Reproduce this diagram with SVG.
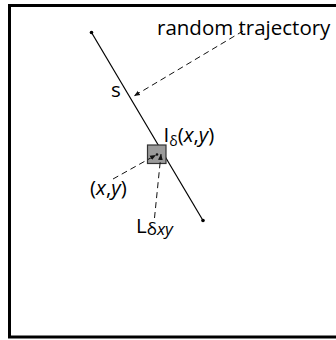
<svg xmlns="http://www.w3.org/2000/svg" width="336" height="340" viewBox="0 0 336 340">
<style>
text{font-family:"Open Sans","Noto Sans","DejaVu Sans",sans-serif;fill:#000}
.lbl{font-size:20.5px}
.it{font-style:italic}
.dash{fill:none;stroke:#111;stroke-width:1;stroke-dasharray:6 4}
</style>
<defs>
<marker id="ah" viewBox="0 0 10 10" refX="10" refY="5" markerWidth="6" markerHeight="6" orient="auto" markerUnits="userSpaceOnUse">
<path d="M0,1 L10,5 L0,9 Z" fill="#111"/>
</marker>
</defs>
<rect x="9.5" y="5.5" width="340" height="331.5" fill="#fff" stroke="#000" stroke-width="3"/>
<g id="trajectory">
<line x1="91.5" y1="32.5" x2="203" y2="220.5" stroke="#000" stroke-width="1.2"/>
<circle cx="91.5" cy="32.5" r="1.8" fill="#000"/>
<circle cx="203" cy="220.5" r="1.8" fill="#000"/>
</g>
<g id="cell">
<rect x="147.5" y="145" width="18.5" height="18.5" fill="#9a9a9a" stroke="#333" stroke-width="1.2"/>
</g>
<g id="connectors">
<path class="dash" d="M243,31 L134,96" marker-end="url(#ah)"/>
<path class="dash" d="M113,179 L156,155" marker-end="url(#ah)"/>
<circle cx="157" cy="154.5" r="1.3" fill="#111"/>
<path class="dash" d="M154.5,218 L161,154" marker-end="url(#ah)"/>
</g>
<g id="labels">
<text class="lbl" x="157" y="35">random trajectory</text>
<text class="lbl" x="111" y="97">s</text>
<text class="lbl" x="163.5" y="141.5">I<tspan font-size="14" dy="4">δ</tspan><tspan dy="-4">(</tspan><tspan class="it">x</tspan>,<tspan class="it">y</tspan>)</text>
<text class="lbl" x="90" y="195">(<tspan class="it">x</tspan>,<tspan class="it">y</tspan>)</text>
<text class="lbl" x="136" y="233">L<tspan font-size="17" dy="2">δ</tspan><tspan font-size="17" class="it">xy</tspan></text>
</g>
</svg>
